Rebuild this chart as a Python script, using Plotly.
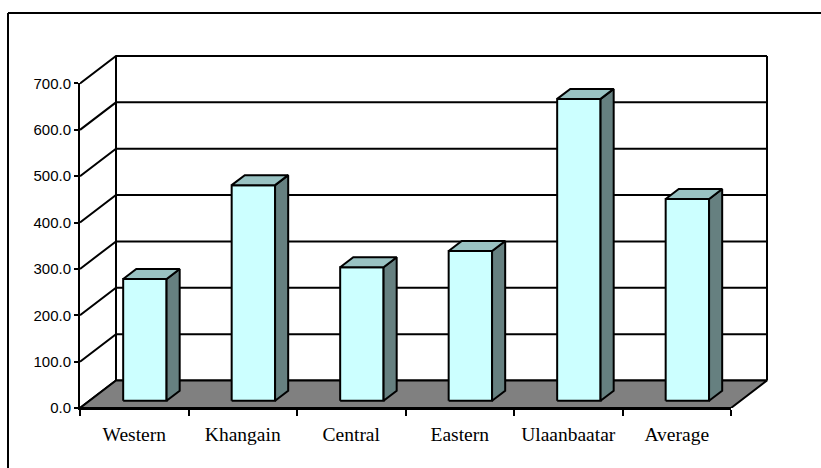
import plotly.graph_objects as go

# Data
regions = ["Western", "Khangain", "Central", "Eastern", "Ulaanbaatar", "Average"]
values = [262.5, 465.0, 288.0, 323.0, 651.0, 435.0]
y_ticks = [0, 100, 200, 300, 400, 500, 600, 700]

# Canvas / plot geometry
W, H = 821, 468
M_L, M_R, M_T, M_B = 80, 51, 52, 60
CAT_PX = 108.5          # pixels per category
VAL_PX = 0.4636         # pixels per value unit
PLOT_W = W - M_L - M_R
PLOT_H = H - M_T - M_B
XMAX = PLOT_W / CAT_PX
YMAX = PLOT_H / VAL_PX
N = len(regions)
VMAX = y_ticks[-1]

# 3D depth offsets (full depth of the chart box), in data units
DX = 36 / CAT_PX
DY = 27.5 / VAL_PX
# bar placement inside a category and in depth
BAR_LEFT, BAR_W = 0.31, 0.40
D0, D_THICK = 0.265, 0.364

FRONT = "#CCFFFF"
SIDE = "#668080"
TOP = "#99C2C2"
FLOOR = "#808080"
LW = 2

fig = go.Figure()

# empty trace so the front axes (x / y) subplot is rendered
fig.add_trace(go.Scatter(x=[0], y=[0], mode="markers", marker=dict(opacity=0),
                         hoverinfo="skip", showlegend=False,
                         xaxis="x", yaxis="y"))


def poly(xs, ys, fill):
    fig.add_trace(go.Scatter(
        x=xs + [xs[0]], y=ys + [ys[0]], mode="lines", fill="toself",
        fillcolor=fill, line=dict(color="black", width=LW),
        hoverinfo="skip", showlegend=False, xaxis="x2", yaxis="y2"))


# walls: gridlines on back wall and side wall
gx, gy = [], []
for v in y_ticks:
    gx += [0, DX, N + DX, None]
    gy += [v, v + DY, v + DY, None]
gx += [DX, DX, None, N + DX, N + DX, None]
gy += [DY, VMAX + DY, None, DY, VMAX + DY, None]
fig.add_trace(go.Scatter(x=gx, y=gy, mode="lines",
                         line=dict(color="black", width=LW),
                         hoverinfo="skip", showlegend=False,
                         xaxis="x2", yaxis="y2"))

# floor
poly([0, N, N + DX, DX], [0, 0, DY, DY], FLOOR)

# bars
for i, v in enumerate(values):
    xl = i + BAR_LEFT + D0 * DX
    xr = xl + BAR_W
    base = D0 * DY
    top = base + v
    ddx, ddy = D_THICK * DX, D_THICK * DY
    poly([xl, xr, xr, xl], [base, base, top, top], FRONT)
    poly([xr, xr + ddx, xr + ddx, xr], [base, base + ddy, top + ddy, top], SIDE)
    poly([xl, xr, xr + ddx, xl + ddx], [top, top, top + ddy, top + ddy], TOP)

# outer frame (top and left edges, running to the canvas border)
fx0 = (8 - M_L) / PLOT_W
fy1 = (H - M_B - 13) / PLOT_H
fig.add_shape(type="line", xref="paper", yref="paper",
              x0=fx0, x1=(W - M_L) / PLOT_W, y0=fy1, y1=fy1,
              line=dict(color="black", width=LW))
fig.add_shape(type="line", xref="paper", yref="paper",
              x0=fx0, x1=fx0, y0=fy1, y1=-M_B / PLOT_H,
              line=dict(color="black", width=LW))

fig.update_layout(
    width=W, height=H,
    margin=dict(l=M_L, r=M_R, t=M_T, b=M_B, pad=0),
    paper_bgcolor="white", plot_bgcolor="rgba(0,0,0,0)",
    showlegend=False,
    xaxis=dict(domain=[0, N / XMAX], range=[0, N], anchor="y",
               showline=True, linecolor="black", linewidth=LW,
               showgrid=False, zeroline=False, fixedrange=True,
               tickmode="array", tickvals=[i + 0.5 for i in range(N)],
               ticktext=regions, ticks="",
               ticklabelstandoff=8,
               tickfont=dict(family="Liberation Serif, Times New Roman, serif",
                             size=19.5, color="black"),
               minor=dict(tickmode="array", tickvals=list(range(N + 1)),
                          ticks="outside", ticklen=6, tickwidth=LW,
                          tickcolor="black", showgrid=False)),
    yaxis=dict(domain=[0, VMAX / YMAX], range=[0, VMAX], anchor="x",
               showline=True, linecolor="black", linewidth=LW,
               showgrid=False, zeroline=False, fixedrange=True,
               tickmode="array", tickvals=y_ticks, tickformat=".1f",
               ticks="outside", ticklen=4, tickwidth=LW, tickcolor="black",
               tickfont=dict(family="Liberation Sans, Arial, sans-serif",
                             size=15, color="black")),
    xaxis2=dict(domain=[0, 1], range=[0, XMAX], anchor="y2", visible=False,
                fixedrange=True),
    yaxis2=dict(domain=[0, 1], range=[0, YMAX], anchor="x2", visible=False,
                fixedrange=True),
)

fig.write_html("out.html")
